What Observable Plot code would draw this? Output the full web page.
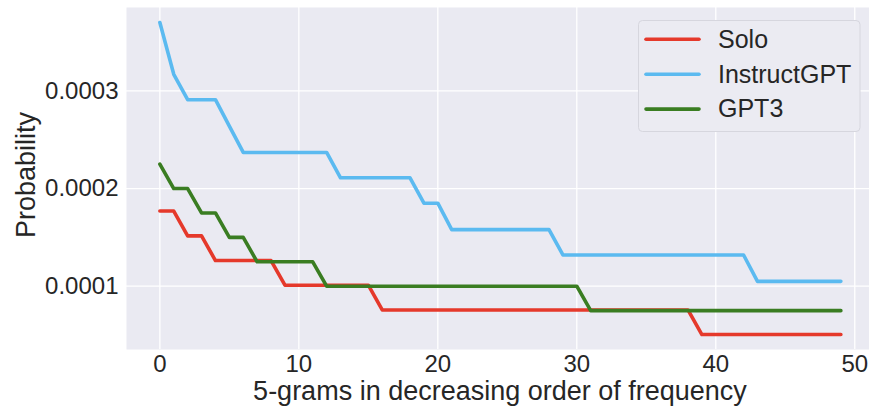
<!DOCTYPE html>
<html>
<head>
<meta charset="utf-8">
<script src="https://cdn.jsdelivr.net/npm/d3@7"></script>
<script src="https://cdn.jsdelivr.net/npm/@observablehq/plot@0.6"></script>
<style>
  html, body { margin: 0; padding: 0; background: #ffffff; }
  #chart { width: 869px; height: 406px; }
  svg { font-family: "Liberation Sans", Arial, sans-serif; }
</style>
</head>
<body>
<div id="chart"></div>
<script>
const seriesNames = ["Solo", "InstructGPT", "GPT3"];
const seriesColors = ["#e5392b", "#5bbaf0", "#3a7d22"];

const solo = [
  0.000177, 0.000177, 0.0001515, 0.0001515, 0.0001263, 0.0001263, 0.0001263, 0.0001263, 0.0001263, 0.000101,
  0.000101, 0.000101, 0.000101, 0.000101, 0.000101, 0.000101, 0.0000757, 0.0000757, 0.0000757, 0.0000757,
  0.0000757, 0.0000757, 0.0000757, 0.0000757, 0.0000757, 0.0000757, 0.0000757, 0.0000757, 0.0000757, 0.0000757,
  0.0000757, 0.0000757, 0.0000757, 0.0000757, 0.0000757, 0.0000757, 0.0000757, 0.0000757, 0.0000757, 0.0000505,
  0.0000505, 0.0000505, 0.0000505, 0.0000505, 0.0000505, 0.0000505, 0.0000505, 0.0000505, 0.0000505, 0.0000505
];
const instructGPT = [
  0.000370, 0.000317, 0.000291, 0.000291, 0.000291, 0.000264, 0.000237, 0.000237, 0.000237, 0.000237,
  0.000237, 0.000237, 0.000237, 0.000211, 0.000211, 0.000211, 0.000211, 0.000211, 0.000211, 0.000185,
  0.000185, 0.000158, 0.000158, 0.000158, 0.000158, 0.000158, 0.000158, 0.000158, 0.000158, 0.000132,
  0.000132, 0.000132, 0.000132, 0.000132, 0.000132, 0.000132, 0.000132, 0.000132, 0.000132, 0.000132,
  0.000132, 0.000132, 0.000132, 0.000105, 0.000105, 0.000105, 0.000105, 0.000105, 0.000105, 0.000105
];
const gpt3 = [
  0.000225, 0.000200, 0.000200, 0.000175, 0.000175, 0.000150, 0.000150, 0.000125, 0.000125, 0.000125,
  0.000125, 0.000125, 0.000100, 0.000100, 0.000100, 0.000100, 0.000100, 0.000100, 0.000100, 0.000100,
  0.000100, 0.000100, 0.000100, 0.000100, 0.000100, 0.000100, 0.000100, 0.000100, 0.000100, 0.000100,
  0.000100, 0.000075, 0.000075, 0.000075, 0.000075, 0.000075, 0.000075, 0.000075, 0.000075, 0.000075,
  0.000075, 0.000075, 0.000075, 0.000075, 0.000075, 0.000075, 0.000075, 0.000075, 0.000075, 0.000075
];
const xTicks = [0, 10, 20, 30, 40, 50];
const yTicks = [0.0001, 0.0002, 0.0003];
const xLabel = "5-grams in decreasing order of frequency";
const yLabel = "Probability";

const allSeries = [solo, instructGPT, gpt3];
const rows = [];
allSeries.forEach((vals, s) => vals.forEach((v, i) => rows.push({i, v, series: seriesNames[s]})));

const textColor = "#262626";

const plot = Plot.plot({
  width: 869,
  height: 406,
  marginLeft: 126,
  marginRight: 0,
  marginTop: 7,
  marginBottom: 57,
  style: {background: "transparent", fontFamily: "Liberation Sans, Arial, sans-serif", color: textColor},
  x: {domain: [-2.4, 51.06], ticks: xTicks},
  y: {domain: [0.0000352, 0.0003854], ticks: yTicks},
  color: {domain: seriesNames, range: seriesColors},
  marks: [
    Plot.frame({fill: "#eaeaf2", stroke: null}),
    Plot.gridX(xTicks, {stroke: "#ffffff", strokeOpacity: 1, strokeWidth: 1.3}),
    Plot.gridY(yTicks, {stroke: "#ffffff", strokeOpacity: 1, strokeWidth: 1.3}),
    Plot.axisX(xTicks, {tickSize: 0, tickPadding: 5, fontSize: 24, fill: textColor, label: null}),
    Plot.axisY(yTicks, {tickSize: 0, tickPadding: 8, fontSize: 24, fill: textColor, label: null, tickFormat: d => d.toFixed(4)}),
    Plot.line(rows, {x: "i", y: "v", z: "series", stroke: "series", strokeWidth: 3.6, strokeLinejoin: "round", strokeLinecap: "round"})
  ]
});
document.getElementById("chart").appendChild(plot);

const svg = d3.select(plot);
// axis titles
svg.append("text")
  .attr("x", 500).attr("y", 399.5)
  .attr("text-anchor", "middle")
  .attr("font-size", 27).attr("fill", textColor)
  .text(xLabel);
svg.append("text")
  .attr("transform", "translate(35,175) rotate(-90)")
  .attr("text-anchor", "middle")
  .attr("font-size", 27).attr("fill", textColor)
  .text(yLabel);

// legend
const lg = svg.append("g").attr("text-anchor", "start");
lg.append("rect")
  .attr("x", 638.5).attr("y", 20.5).attr("width", 221.5).attr("height", 111)
  .attr("rx", 4).attr("fill", "#ebebf2").attr("stroke", "#d6d6de").attr("stroke-width", 1);
seriesNames.forEach((name, k) => {
  const cy = 39.3 + k * 34.9;
  lg.append("line")
    .attr("x1", 646).attr("x2", 699).attr("y1", cy).attr("y2", cy)
    .attr("stroke", seriesColors[k]).attr("stroke-width", 3.6).attr("stroke-linecap", "round");
  lg.append("text")
    .attr("x", 718).attr("y", cy + 8.3)
    .attr("text-anchor", "start")
    .attr("font-size", 25).attr("fill", textColor)
    .text(name);
});
</script>
</body>
</html>
